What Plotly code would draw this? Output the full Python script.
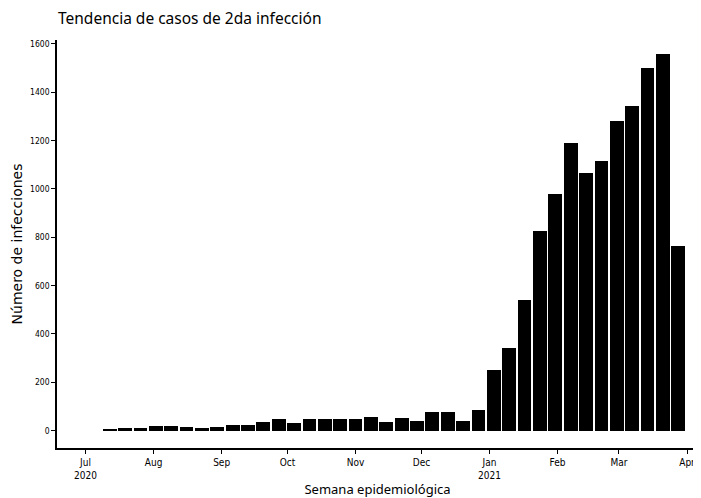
import plotly.graph_objects as go

week_start = [
    "2020-07-12", "2020-07-19", "2020-07-26", "2020-08-02", "2020-08-09", "2020-08-16",
    "2020-08-23", "2020-08-30", "2020-09-06", "2020-09-13", "2020-09-20", "2020-09-27",
    "2020-10-04", "2020-10-11", "2020-10-18", "2020-10-25", "2020-11-01", "2020-11-08",
    "2020-11-15", "2020-11-22", "2020-11-29", "2020-12-06", "2020-12-13", "2020-12-20",
    "2020-12-27", "2021-01-03", "2021-01-10", "2021-01-17", "2021-01-24", "2021-01-31",
    "2021-02-07", "2021-02-14", "2021-02-21", "2021-02-28", "2021-03-07", "2021-03-14",
    "2021-03-21", "2021-03-28",
]
infecciones = [
    7, 9, 10, 19, 19, 16,
    12, 16, 24, 24, 34, 50,
    33, 48, 48, 48, 50, 55,
    34, 53, 40, 75, 75, 41,
    84, 250, 343, 540, 827, 979,
    1191, 1065, 1117, 1281, 1342, 1500,
    1557, 764,
]

month_ticks = [
    "2020-07-01", "2020-08-01", "2020-09-01", "2020-10-01", "2020-11-01",
    "2020-12-01", "2021-01-01", "2021-02-01", "2021-03-01", "2021-04-01",
]
month_labels = [
    "Jul<br>2020", "Aug", "Sep", "Oct", "Nov",
    "Dec", "Jan<br>2021", "Feb", "Mar", "Apr",
]
y_ticks = [0, 200, 400, 600, 800, 1000, 1200, 1400, 1600]

titulo = "Tendencia de casos de 2da infección"
titulo_x = "Semana epidemiológica"
titulo_y = "Número de infecciones"

DAY_MS = 24 * 3600 * 1000

# page body has an 8px margin; size the figure so it fits the window
W, H = 693, 490

fig = go.Figure(
    go.Bar(
        x=week_start,
        y=infecciones,
        width=[6.3 * DAY_MS] * len(week_start),
        marker=dict(color="#000000", line=dict(width=0)),
    )
)

fig.update_layout(
    width=W,
    height=H,
    paper_bgcolor="white",
    plot_bgcolor="white",
    showlegend=False,
    margin=dict(l=49, r=3, t=32, b=50),
    title=dict(
        text=titulo,
        x=50 / W,
        xanchor="left",
        y=1 - 11 / H,
        yanchor="middle",
        font=dict(family="Noto Sans", size=15.5, color="#000000"),
    ),
    bargap=0,
)

fig.update_xaxes(
    type="date",
    range=["2020-06-18", "2021-04-06"],
    tickvals=month_ticks,
    ticktext=month_labels,
    ticks="outside",
    ticklen=4,
    tickcolor="#000000",
    showline=True,
    linecolor="#000000",
    linewidth=1.5,
    showgrid=False,
    zeroline=False,
    tickfont=dict(family="DejaVu Sans Condensed", size=10, color="#000000"),
    title=dict(
        text=titulo_x,
        font=dict(family="Noto Sans", size=13, color="#000000"),
        standoff=6,
    ),
)

fig.update_yaxes(
    range=[-72, 1616],
    tickvals=y_ticks,
    ticks="outside",
    ticklen=4,
    tickcolor="#000000",
    showline=True,
    linecolor="#000000",
    linewidth=1.5,
    showgrid=False,
    zeroline=False,
    tickfont=dict(family="DejaVu Sans Condensed", size=8.5, color="#000000"),
    title=dict(
        text=titulo_y,
        font=dict(family="DejaVu Sans", size=14, color="#000000"),
        standoff=4,
    ),
)

fig.write_html("out.html")
